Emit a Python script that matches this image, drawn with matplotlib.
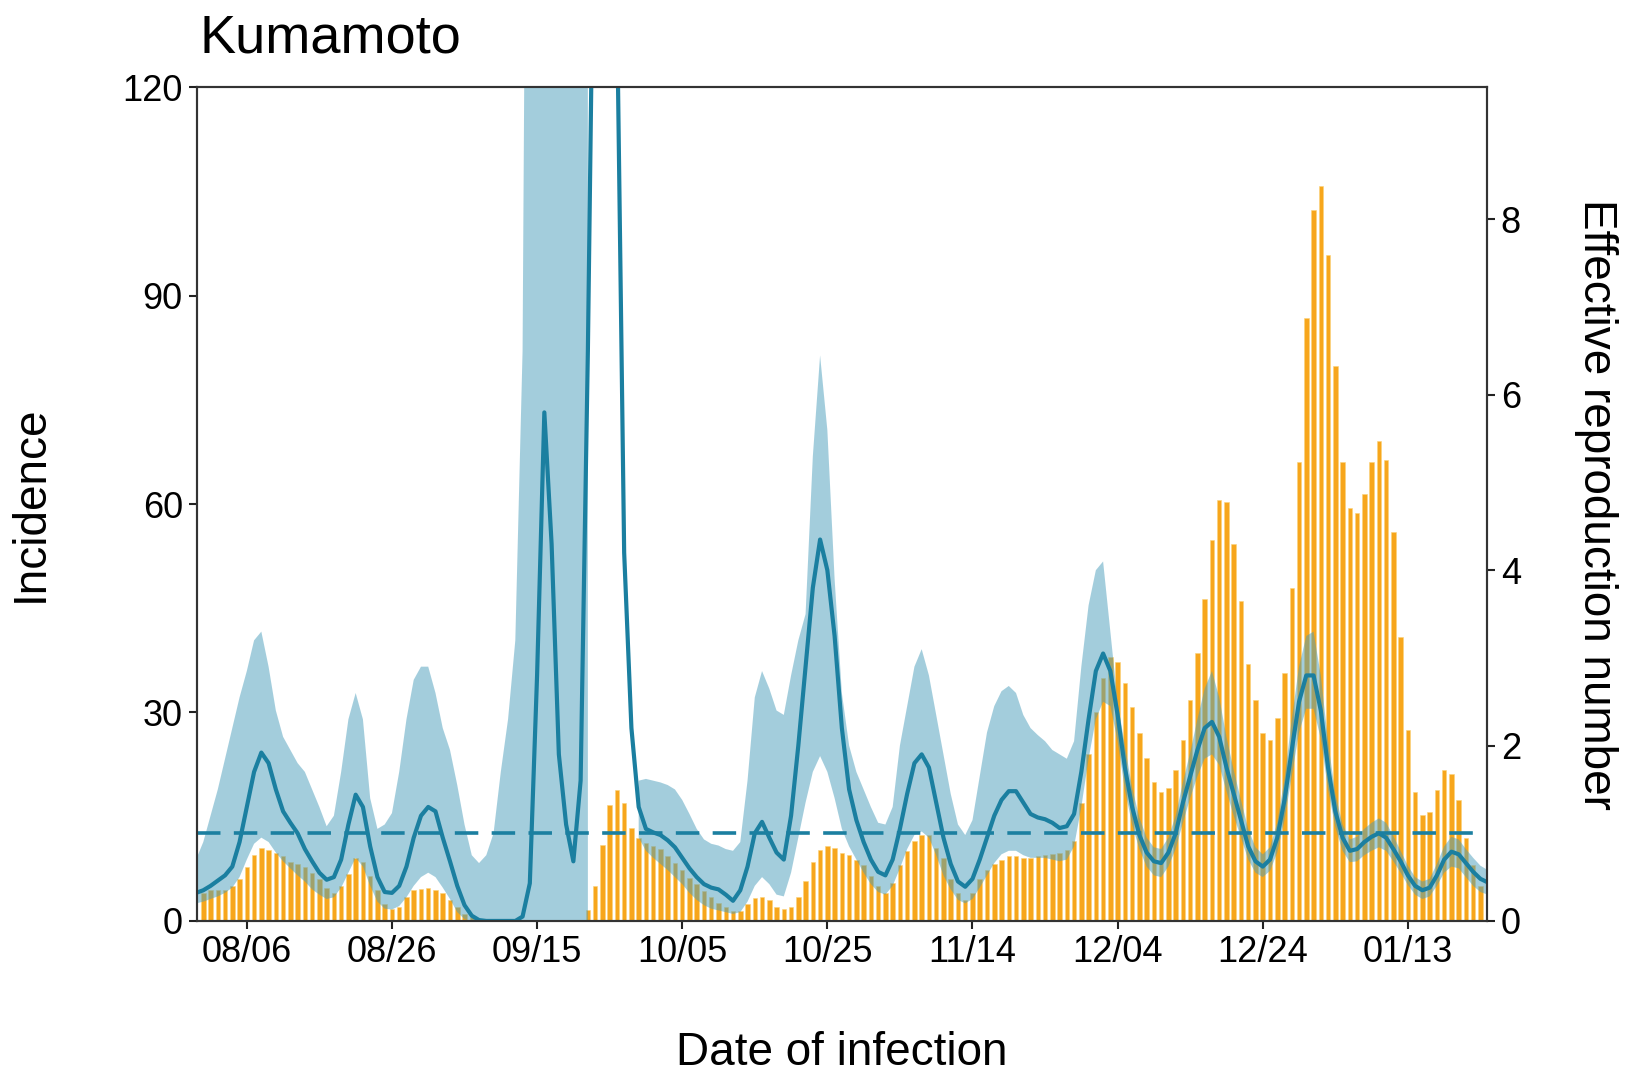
import matplotlib
matplotlib.use("Agg")
import matplotlib.pyplot as plt
import numpy as np

plt.rcParams['font.family'] = ['Liberation Sans', 'DejaVu Sans']

# day index, 0 = 08/06 (2020); data runs 07/30 .. 01/24
days = np.arange(-7, 172)
tick_days = [0, 20, 40, 60, 80, 100, 120, 140, 160]
tick_labels = ['08/06', '08/26', '09/15', '10/05', '10/25', '11/14', '12/04', '12/24', '01/13']

incidence = [
    0, 4, 4.5, 4.5, 4.5, 5, 6,                       # -7..-1
    7.8, 9.5, 10.5, 10.2, 9.8, 9.3, 8.5,             # 0..6
    8.2, 7.8, 6.9, 6, 4.7, 4, 5,                     # 7..13
    6.8, 9, 8.5, 6.5, 4.5, 2.5, 1.7,                 # 14..20
    2, 3.5, 4.4, 4.6, 4.7, 4.5, 4,                   # 21..27
    3, 2, 1, 0.5, 0, 0, 0,                           # 28..34
    0, 0, 0, 0, 0, 0, 0,                             # 35..41
    0, 0, 0, 0, 0, 1.6, 5,                           # 42..48
    11, 16.7, 18.8, 17, 13.4, 12, 11.2,              # 49..55
    10.8, 10.3, 9.3, 8.3, 7.3, 6.2, 5.3,             # 56..62
    4.3, 3.5, 2.6, 2, 1.5, 1.5, 2.5,                 # 63..69
    3.3, 3.5, 3, 2, 1.7, 2, 3.5,                     # 70..76
    5.7, 8.5, 10.2, 10.8, 10.5, 9.8, 9.5,            # 77..83
    8.8, 8, 6.5, 5, 4, 5.5, 8,                       # 84..90
    10, 11.5, 12.4, 12.3, 10.5, 9, 6,                # 91..97
    4, 3, 4, 6, 7.3, 8.2, 8.8,                       # 98..104
    9.4, 9.3, 9, 9, 9.3, 9.5, 9.6,                   # 105..111
    9.8, 10.2, 11.5, 17, 24, 30, 35,                 # 112..118
    38, 37.3, 34.2, 30.8, 27, 23.4, 20,              # 119..125
    18.6, 19.1, 21.7, 26, 31.8, 38.5, 46.4,          # 126..132
    54.8, 60.6, 60.3, 54.3, 46, 37, 31.8,            # 133..139
    27, 26, 29.2, 35.7, 47.9, 66.1, 86.7,            # 140..146
    102.3, 105.7, 95.8, 79.8, 66.1, 59.4, 58.7,      # 147..153
    61.5, 66.1, 69, 66.3, 56, 40.9, 27.5,            # 154..160
    18.6, 15.2, 15.7, 18.8, 21.7, 21.2, 17.4,        # 161..167
    12, 8, 5, 0,                                     # 168..171
]

rt_mean = [
    0.32, 0.35, 0.40, 0.46, 0.52, 0.62, 0.90,
    1.30, 1.70, 1.92, 1.80, 1.50, 1.25, 1.12,
    1.00, 0.82, 0.68, 0.55, 0.47, 0.50, 0.70,
    1.10, 1.44, 1.30, 0.85, 0.50, 0.33, 0.32,
    0.40, 0.62, 0.95, 1.20, 1.30, 1.25, 0.95,
    0.68, 0.40, 0.18, 0.06, 0.01, 0.0, 0.0,
    0.0, 0.0, 0.0, 0.05, 0.43, 2.8, 5.8,
    4.3, 1.9, 1.1, 0.68, 1.6, 6.5, 13,
    15, 14, 10.5, 4.2, 2.2, 1.3, 1.05,
    1.01, 0.98, 0.92, 0.84, 0.72, 0.60, 0.50,
    0.42, 0.38, 0.36, 0.30, 0.23, 0.35, 0.62,
    1.0, 1.13, 0.95, 0.78, 0.70, 1.2, 2.0,
    2.9, 3.8, 4.35, 4.0, 3.25, 2.2, 1.5,
    1.15, 0.9, 0.7, 0.56, 0.52, 0.7, 1.05,
    1.45, 1.8, 1.9, 1.75, 1.35, 0.95, 0.65,
    0.45, 0.39, 0.48, 0.70, 0.95, 1.2, 1.38,
    1.48, 1.48, 1.35, 1.22, 1.18, 1.16, 1.12,
    1.06, 1.08, 1.22, 1.7, 2.3, 2.85, 3.05,
    2.85, 2.35, 1.75, 1.3, 0.98, 0.78, 0.68,
    0.66, 0.78, 1.0, 1.35, 1.65, 1.95, 2.2,
    2.27, 2.1, 1.75, 1.45, 1.15, 0.85, 0.68,
    0.62, 0.70, 0.95, 1.38, 1.95, 2.5, 2.8,
    2.8, 2.4, 1.75, 1.25, 0.95, 0.80, 0.82,
    0.90, 0.96, 1.0, 0.95, 0.82, 0.68, 0.52,
    0.40, 0.35, 0.38, 0.52, 0.70, 0.79, 0.76,
    0.66, 0.56, 0.48, 0.44,
]

nan = np.nan
rt_lower = [
    0.2, 0.22, 0.25, 0.28, 0.32, 0.38, 0.5,
    0.7, 0.88, 0.95, 0.9, 0.78, 0.68, 0.6,
    0.52, 0.45, 0.36, 0.3, 0.25, 0.27, 0.38,
    0.55, 0.72, 0.62, 0.4, 0.22, 0.14, 0.13,
    0.17, 0.27, 0.4, 0.5, 0.55, 0.5, 0.38,
    0.25, 0.1, 0.02, 0, 0, 0, 0,
    0, 0, 0, 0, 0, 0, 0,
    0, 0, 0, 0, 0, 0, nan,
    nan, nan, nan, nan, nan, 0.95, 0.8,
    0.72, 0.65, 0.58, 0.5, 0.42, 0.32, 0.24,
    0.18, 0.14, 0.12, 0.1, 0.08, 0.1, 0.22,
    0.4, 0.5, 0.42, 0.3, 0.28, 0.55, 0.95,
    1.35, 1.7, 1.88, 1.7, 1.4, 1.05, 0.85,
    0.7, 0.55, 0.42, 0.33, 0.3, 0.4, 0.6,
    0.82, 0.98, 1.02, 0.95, 0.75, 0.52, 0.36,
    0.24, 0.2, 0.25, 0.38, 0.52, 0.66, 0.76,
    0.8, 0.8, 0.75, 0.72, 0.72, 0.72, 0.7,
    0.68, 0.7, 0.85, 1.3, 1.85, 2.3, 2.5,
    2.45, 2.05, 1.5, 1.1, 0.82, 0.62, 0.52,
    0.5, 0.62, 0.82, 1.12, 1.4, 1.65, 1.85,
    1.9, 1.78, 1.48, 1.2, 0.95, 0.7, 0.55,
    0.5, 0.57, 0.78, 1.15, 1.65, 2.15, 2.42,
    2.42, 2.08, 1.5, 1.07, 0.8, 0.67, 0.68,
    0.75, 0.8, 0.84, 0.8, 0.68, 0.55, 0.41,
    0.3, 0.25, 0.28, 0.4, 0.55, 0.62, 0.6,
    0.5, 0.4, 0.33, 0.3,
]

rt_upper = [
    0.7, 0.9, 1.2, 1.5, 1.85, 2.2, 2.55,
    2.85, 3.2, 3.3, 2.9, 2.4, 2.1, 1.95,
    1.8, 1.7, 1.5, 1.3, 1.08, 1.2, 1.7,
    2.3, 2.6, 2.3, 1.4, 1.05, 1.1, 1.23,
    1.7, 2.3, 2.75, 2.9, 2.9, 2.6, 2.2,
    1.95, 1.55, 1.1, 0.75, 0.66, 0.75, 1.0,
    1.7, 2.3, 3.2, 6.5, 20, 20, 20,
    20, 20, 20, 20, 20, 20, nan,
    nan, nan, nan, nan, nan, 1.6, 1.62,
    1.6, 1.58, 1.55, 1.5, 1.38, 1.22, 1.05,
    0.93, 0.88, 0.86, 0.82, 0.8, 0.9, 1.6,
    2.55, 2.85, 2.65, 2.4, 2.35, 2.8, 3.2,
    3.5, 5.3, 6.45, 5.6, 3.9, 2.6, 2.0,
    1.7, 1.5, 1.3, 1.12, 1.1, 1.3, 2.0,
    2.45, 2.9, 3.1, 2.8, 2.35, 1.9, 1.45,
    1.1, 0.98, 1.15, 1.65, 2.15, 2.45, 2.62,
    2.68, 2.6, 2.35, 2.2, 2.12, 2.05, 1.95,
    1.9, 1.85, 2.05, 2.9, 3.6, 4.0, 4.1,
    3.3, 2.5, 2.0, 1.52, 1.18, 0.95, 0.84,
    0.82, 0.95, 1.2, 1.58, 1.92, 2.3, 2.65,
    2.85, 2.55, 2.1, 1.72, 1.38, 1.05, 0.84,
    0.76, 0.84, 1.12, 1.62, 2.3, 2.9, 3.25,
    3.3, 2.8, 2.05, 1.45, 1.1, 0.93, 0.96,
    1.05, 1.12, 1.17, 1.12, 0.97, 0.8, 0.63,
    0.5, 0.45, 0.48, 0.65, 0.85, 0.96, 0.93,
    0.82, 0.72, 0.63, 0.58,
]

line_col = '#1b7fa0'
band_col = '#499dbb'
bar_col = '#f7a61c'
spine_col = '#333333'

fig = plt.figure(figsize=(16.26, 10.75), dpi=100)
ax = fig.add_axes([0.121, 0.1433, 0.7935, 0.7757])
ax2 = ax.twinx()

ax.bar(days, incidence, width=0.62, color=bar_col, edgecolor='#fbd27a', linewidth=0.4)

lo = np.array(rt_lower, dtype=float)
hi = np.array(rt_upper, dtype=float)
ax2.fill_between(days, lo, hi, color=band_col, alpha=0.5, linewidth=0)
ax2.axhline(1, color=line_col, lw=2.6, dashes=(6.5, 3.7))
ax2.plot(days, rt_mean, color=line_col, lw=3.0, solid_joinstyle='round')

ax.set_xlim(-6.9, 170.9)
ax.set_ylim(0, 120)
ax2.set_ylim(0, 9.51)
ax.set_yticks([0, 30, 60, 90, 120])
ax2.set_yticks([0, 2, 4, 6, 8])
ax.set_xticks(tick_days)
ax.set_xticklabels(tick_labels)

for a in (ax, ax2):
    for s in a.spines.values():
        s.set_color(spine_col)
        s.set_linewidth(1.5)
    a.tick_params(labelsize=26, length=6, width=1.5, color='#222222', pad=4)

ax.set_ylabel('Incidence', fontsize=33, labelpad=50)
ax2.set_ylabel('Effective reproduction number', fontsize=33, rotation=-90, labelpad=70)
ax.set_xlabel('Date of infection', fontsize=33, labelpad=44)
fig.text(0.123, 0.964, 'Kumamoto', fontsize=39, ha='left', va='center')

fig.savefig('out.png', dpi=100)
